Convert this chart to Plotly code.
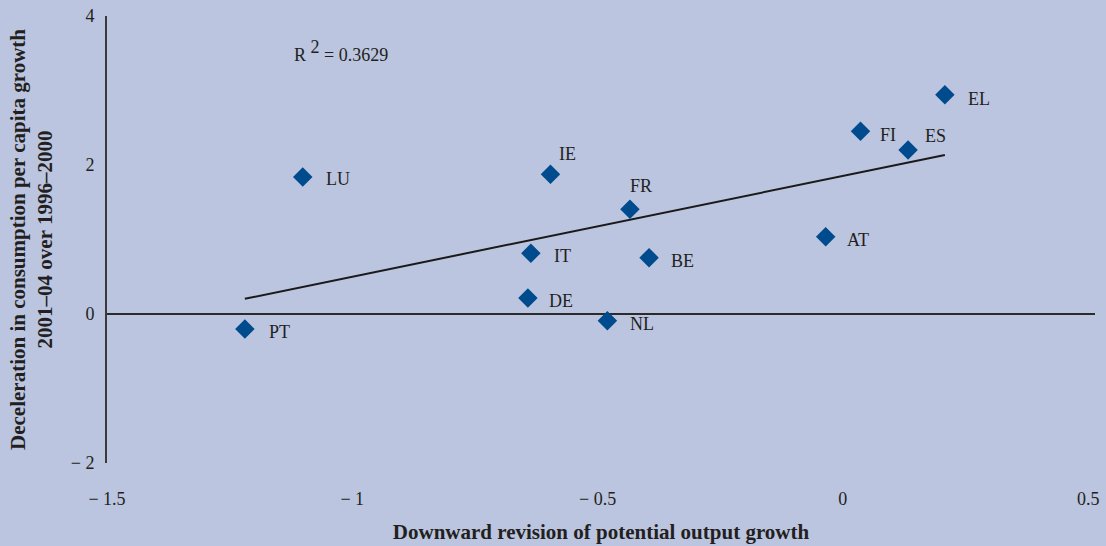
import numpy as np
import plotly.graph_objects as go

# Country codes and their coordinates
countries = ["PT", "LU", "IE", "FR", "IT", "BE", "DE", "NL", "AT", "FI", "ES", "EL"]
output_revision = [-1.219, -1.101, -0.596, -0.434, -0.636, -0.395, -0.642, -0.480,
                   -0.035, 0.036, 0.133, 0.208]
consumption_decel = [-0.20, 1.84, 1.875, 1.405, 0.815, 0.756, 0.215, -0.09,
                     1.038, 2.452, 2.20, 2.944]

# Tick values and labels
x_tickvals = [-1.5, -1.0, -0.5, 0.0, 0.5]
x_ticktext = ["\u2212 1.5", "\u2212 1", "\u2212 0.5", "0", "0.5"]
y_tickvals = [-2, 0, 2, 4]
y_ticktext = ["\u2212 2", "0", "2", "4"]

r2_text = "R <sup><span style='font-size:18px'>2</span></sup> = 0.3629"

# label offsets in pixels (xshift, yshift) relative to each marker
label_offsets = {
    "PT": (22, -3), "LU": (21, -2), "IE": (7, 20), "FR": (-2, 23),
    "IT": (21, -3), "BE": (20, -3), "DE": (19, -3), "NL": (21, -3),
    "AT": (19, -3), "FI": (17, -4), "ES": (15, 14), "EL": (21, -4),
}

BG = "#BBC5DF"
MARKER = "#004B8D"
INK = "#231F20"
FONT = "Liberation Serif"

x = np.array(output_revision)
y = np.array(consumption_decel)
slope, intercept = np.polyfit(x, y, 1)
fit_x = np.array([x.min(), x.max()])
fit_y = slope * fit_x + intercept

fig = go.Figure()

fig.add_trace(go.Scatter(
    x=fit_x, y=fit_y, mode="lines",
    line=dict(color="#1a1a1a", width=2),
    hoverinfo="skip", showlegend=False,
))

fig.add_trace(go.Scatter(
    x=output_revision, y=consumption_decel, mode="markers",
    marker=dict(symbol="diamond", size=15, color=MARKER, line=dict(width=0)),
    text=countries, hoverinfo="text", showlegend=False,
))

for name, xv, yv in zip(countries, output_revision, consumption_decel):
    dx, dy = label_offsets[name]
    fig.add_annotation(
        x=xv, y=yv, text=name, showarrow=False,
        xanchor="left", yanchor="middle", xshift=dx, yshift=dy,
        font=dict(family=FONT, size=18, color=INK),
    )

fig.add_annotation(
    x=-1.123, y=3.53, text=r2_text, showarrow=False,
    xanchor="left", yanchor="middle",
    font=dict(family=FONT, size=18, color=INK),
)

fig.update_layout(
    width=1106, height=546,
    paper_bgcolor=BG, plot_bgcolor=BG,
    margin=dict(l=107, r=11, t=16, b=83),
    font=dict(family=FONT, size=18, color=INK),
    hovermode=False,
)

fig.update_xaxes(
    range=[-1.5, 0.514],
    tickvals=x_tickvals, ticktext=x_ticktext,
    showgrid=False, zeroline=False, showline=False,
    ticks="outside", ticklen=19, tickcolor="rgba(0,0,0,0)",
    tickfont=dict(family=FONT, size=18, color=INK),
    automargin=False,
    title=dict(text="<b>Downward revision of potential output growth</b>",
               font=dict(family=FONT, size=21, color=INK), standoff=16),
)

fig.update_yaxes(
    range=[-2, 4],
    tickvals=y_tickvals, ticktext=y_ticktext,
    showgrid=False,
    zeroline=True, zerolinecolor="#2b2b2b", zerolinewidth=2,
    showline=True, linecolor="#3a3a3a", linewidth=2,
    ticks="outside", ticklen=7, tickcolor="rgba(0,0,0,0)",
    tickfont=dict(family=FONT, size=18, color=INK),
    automargin=False,
    title=dict(text="<b>Deceleration in consumption per capita growth<br>2001\u201304 over 1996\u20132000</b>",
               font=dict(family=FONT, size=21, color=INK), standoff=12),
)

fig.write_html("out.html")
